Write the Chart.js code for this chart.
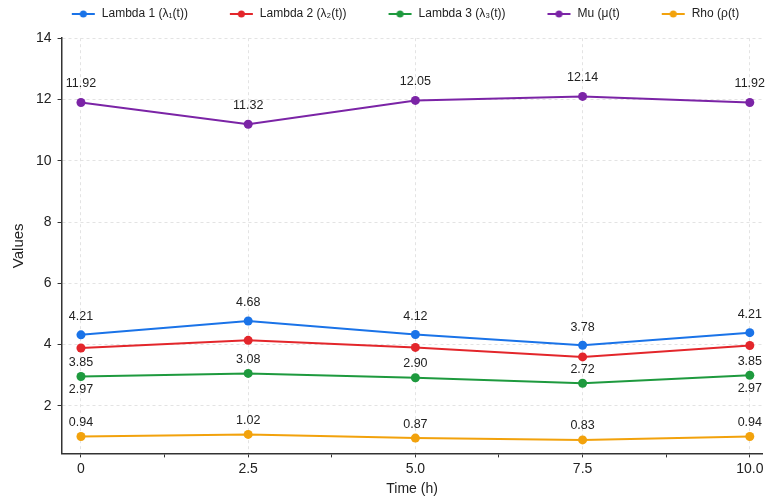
<!DOCTYPE html>
<html>
<head>
<meta charset="utf-8">
<script src="https://cdn.jsdelivr.net/npm/chart.js@4"></script>
<style>
  html, body { margin: 0; padding: 0; background: #fff; }
  #wrap { width: 767px; height: 502px; }
</style>
</head>
<body>
<div id="wrap"><canvas id="chart"></canvas></div>
<script>
// data
var times = [0, 2.5, 5.0, 7.5, 10.0];
var lambda1 = [4.32, 4.77, 4.33, 3.98, 4.39];
var lambda2 = [3.89, 4.14, 3.91, 3.60, 3.97];
var lambda3 = [2.96, 3.06, 2.92, 2.74, 3.00];
var mu = [11.90, 11.19, 11.97, 12.10, 11.90];
var rho = [1.00, 1.07, 0.95, 0.89, 1.00];

// annotation texts as printed on the chart
var lambda1Text = ['4.21', '4.68', '4.12', '3.78', '4.21'];
var lambda3TextAbove = ['3.85', '3.08', '2.90', '2.72', '3.85'];
var lambda3TextBelow = ['2.97', null, null, null, '2.97'];
var muText = ['11.92', '11.32', '12.05', '12.14', '11.92'];
var rhoText = ['0.94', '1.02', '0.87', '0.83', '0.94'];

var xTicks = [0, 1.25, 2.5, 3.75, 5.0, 6.25, 7.5, 8.75, 10.0];
var yTicks = [2, 4, 6, 8, 10, 12, 14];

var seriesNames = ['Lambda 1 (λ₁(t))', 'Lambda 2 (λ₂(t))', 'Lambda 3 (λ₃(t))', 'Mu (μ(t)', 'Rho (ρ(t)'];
var seriesColors = ['#1a73e8', '#e3262b', '#1e9a3e', '#7b24a6', '#f2a20c'];

var FONT = "'Liberation Sans', Arial, sans-serif";

function pts(arr) {
    var out = [];
    for (var i = 0; i < times.length; i++) out.push({x: times[i], y: arr[i]});
    return out;
}

function isMajor(v) {
    return Math.abs(v / 2.5 - Math.round(v / 2.5)) < 1e-6;
}

// line+dot marker for the legend, left part left blank to space items out
var MARK_W = 58;
function legendMarker(color) {
    var c = document.createElement('canvas');
    c.width = MARK_W; c.height = 10;
    var g = c.getContext('2d');
    g.strokeStyle = color;
    g.lineWidth = 2;
    g.beginPath(); g.moveTo(MARK_W - 24, 5); g.lineTo(MARK_W - 1, 5); g.stroke();
    g.fillStyle = color;
    g.beginPath(); g.arc(MARK_W - 12.5, 5, 3.5, 0, Math.PI * 2); g.fill();
    return c;
}

var series = [lambda1, lambda2, lambda3, mu, rho];
var datasets = [];
for (var i = 0; i < series.length; i++) {
    datasets.push({
        label: seriesNames[i],
        data: pts(series[i]),
        borderColor: seriesColors[i],
        backgroundColor: seriesColors[i],
        borderWidth: 2,
        pointRadius: 4.5,
        pointHoverRadius: 4.5,
        pointBorderWidth: 0,
        pointStyle: 'circle',
        legendMarker: legendMarker(seriesColors[i])
    });
}

// which texts go with which dataset, and how far above (+) / below (-) the point
var annotations = [
    {ds: 0, texts: lambda1Text, offset: 18},
    {ds: 2, texts: lambda3TextAbove, offset: 14},
    {ds: 2, texts: lambda3TextBelow, offset: -13},
    {ds: 3, texts: muText, offset: 19},
    {ds: 4, texts: rhoText, offset: 14}
];

var valueLabels = {
    id: 'valueLabels',
    afterDatasetsDraw: function (chart) {
        var ctx = chart.ctx;
        ctx.save();
        ctx.font = '12.5px ' + FONT;
        ctx.fillStyle = '#222';
        ctx.textAlign = 'center';
        ctx.textBaseline = 'middle';
        annotations.forEach(function (a) {
            var meta = chart.getDatasetMeta(a.ds);
            meta.data.forEach(function (p, j) {
                if (a.texts[j] == null) return;
                ctx.fillText(a.texts[j], p.x, p.y - a.offset);
            });
        });
        ctx.restore();
    }
};

new Chart(document.getElementById('chart'), {
    type: 'line',
    data: {datasets: datasets},
    plugins: [valueLabels],
    options: {
        responsive: true,
        maintainAspectRatio: false,
        animation: false,
        layout: {padding: {left: 10, right: 0, top: 0, bottom: 4}},
        plugins: {
            tooltip: {enabled: false},
            // empty subtitle used only as a spacer between legend and plot
            subtitle: {display: true, text: '', weight: 500, font: {size: 1}, padding: {top: 7, bottom: 0}},
            legend: {
                position: 'top',
                labels: {
                    usePointStyle: true,
                    pointStyleWidth: MARK_W,
                    padding: 8,
                    color: '#222',
                    font: {family: FONT, size: 12},
                    generateLabels: function (chart) {
                        return chart.data.datasets.map(function (d, k) {
                            return {
                                text: d.label,
                                pointStyle: d.legendMarker,
                                fillStyle: d.borderColor,
                                strokeStyle: d.borderColor,
                                lineWidth: 0,
                                fontColor: '#222',
                                datasetIndex: k
                            };
                        });
                    }
                }
            }
        },
        scales: {
            x: {
                type: 'linear',
                min: -0.29,
                max: 10.19,
                afterBuildTicks: function (s) {
                    s.ticks = xTicks.map(function (v) { return {value: v}; });
                },
                ticks: {
                    autoSkip: false,
                    maxRotation: 0,
                    color: '#222',
                    font: {family: FONT, size: 14},
                    padding: 3,
                    callback: function (v) {
                        if (!isMajor(v)) return '';
                        return v === 0 ? '0' : v.toFixed(1);
                    }
                },
                grid: {
                    color: function (c) {
                        var v = c.tick ? c.tick.value : 0;
                        return isMajor(v) ? '#e3e3e3' : 'rgba(0,0,0,0)';
                    },
                    tickColor: '#333',
                    tickLength: 4,
                    lineWidth: 1
                },
                border: {color: '#333', width: 1.5, dash: [3, 3]},
                title: {display: true, text: 'Time (h)', color: '#222', font: {family: FONT, size: 14}, padding: {top: 1, bottom: 0}}
            },
            y: {
                min: 0.45,
                max: 14,
                afterBuildTicks: function (s) {
                    s.ticks = yTicks.map(function (v) { return {value: v}; });
                },
                ticks: {
                    color: '#222',
                    font: {family: FONT, size: 14},
                    padding: 6
                },
                grid: {color: '#e3e3e3', tickColor: '#333', tickLength: 4, lineWidth: 1},
                border: {color: '#333', width: 1.5, dash: [3, 3]},
                title: {display: true, text: 'Values', color: '#222', font: {family: FONT, size: 15}, padding: {top: 0, bottom: 2}}
            }
        }
    }
});
</script>
</body>
</html>
